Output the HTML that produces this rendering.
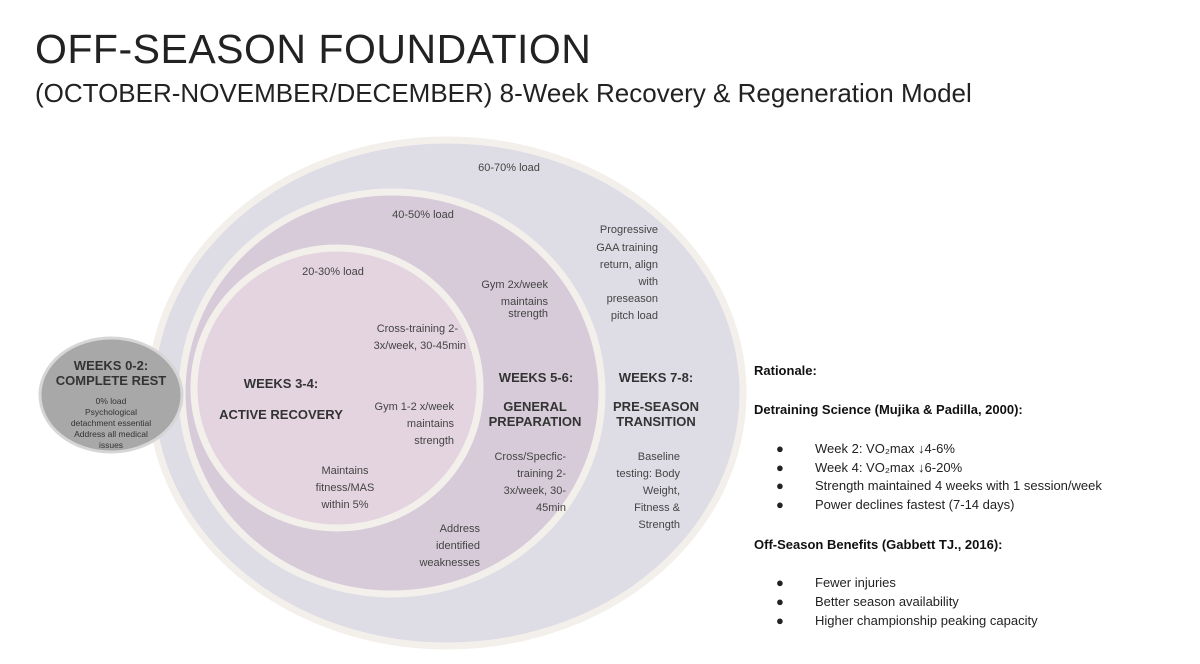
<!DOCTYPE html>
<html><head><meta charset="utf-8"><style>
body{margin:0;width:1200px;height:664px;background:#fff;font-family:"Liberation Sans",sans-serif;overflow:hidden;position:relative}
.t1{position:absolute;left:35px;top:26px;font-size:41px;color:#222;letter-spacing:0.5px}
.t2{position:absolute;left:35px;top:78px;font-size:26px;color:#222}
.r{position:absolute;left:754px;font-size:13px;color:#111}
.b{font-weight:bold}
.li{position:absolute;left:776px;font-size:13px;color:#222}
.li span{position:absolute;left:39px;white-space:nowrap}
</style></head><body>
<div class="t1">OFF-SEASON FOUNDATION</div>
<div class="t2">(OCTOBER-NOVEMBER/DECEMBER) 8-Week Recovery &amp; Regeneration Model</div>
<svg width="760" height="664" style="position:absolute;left:0;top:0" font-family="Liberation Sans, sans-serif">
<ellipse cx="447" cy="393" rx="296" ry="253" fill="#dedce5" stroke="#f3f0ec" stroke-width="7"/>
<ellipse cx="392" cy="393" rx="210" ry="201" fill="#d7cbda" stroke="#f3f0ec" stroke-width="7"/>
<ellipse cx="337" cy="388" rx="143" ry="140" fill="#e3d4df" stroke="#f3f0ec" stroke-width="7"/>
<ellipse cx="111" cy="395" rx="71" ry="57" fill="#a8a8a8" stroke="#d6d6d6" stroke-width="3"/>
<g font-size="11" fill="#444" text-anchor="middle">
<text x="509" y="171">60-70% load</text>
<text x="423" y="218">40-50% load</text>
<text x="333" y="275">20-30% load</text>
<g text-anchor="end">
<text x="658" y="233">Progressive</text><text x="658" y="251">GAA training</text><text x="658" y="268">return, align</text><text x="658" y="285">with</text><text x="658" y="302">preseason</text><text x="658" y="319">pitch load</text>
<text x="548" y="288">Gym 2x/week</text><text x="548" y="305">maintains</text><text x="548" y="312" dy="0"></text><text x="548" y="311" dy="0"></text><text x="548" y="313"></text>
<text x="548" y="322" dy="-5">strength</text>
<text x="458" y="332">Cross-training 2-</text><text x="466" y="349">3x/week, 30-45min</text>
<text x="454" y="410">Gym 1-2 x/week</text><text x="454" y="427">maintains</text><text x="454" y="444">strength</text>
<text x="566" y="460">Cross/Specfic-</text><text x="566" y="477">training 2-</text><text x="566" y="494">3x/week, 30-</text><text x="566" y="511">45min</text>
<text x="680" y="460">Baseline</text><text x="680" y="477">testing: Body</text><text x="680" y="494">Weight,</text><text x="680" y="511">Fitness &amp;</text><text x="680" y="528">Strength</text>
<text x="480" y="532">Address</text><text x="480" y="549">identified</text><text x="480" y="566">weaknesses</text>
</g>
<text x="345" y="474">Maintains</text><text x="345" y="491">fitness/MAS</text><text x="345" y="508">within 5%</text>
</g>
<g font-size="13" font-weight="bold" fill="#333" text-anchor="middle">
<text x="281" y="388">WEEKS 3-4:</text>
<text x="281" y="419">ACTIVE RECOVERY</text>
<text x="536" y="382">WEEKS 5-6:</text>
<text x="535" y="411">GENERAL</text><text x="535" y="426">PREPARATION</text>
<text x="656" y="382">WEEKS 7-8:</text>
<text x="656" y="411">PRE-SEASON</text><text x="656" y="426">TRANSITION</text>
<text x="111" y="370">WEEKS 0-2:</text><text x="111" y="385">COMPLETE REST</text>
</g>
<g font-size="8.5" fill="#333" text-anchor="middle">
<text x="111" y="404">0% load</text><text x="111" y="415">Psychological</text><text x="111" y="426">detachment essential</text><text x="111" y="437">Address all medical</text><text x="111" y="448">issues</text>
</g>
</svg>
<div class="r b" style="top:363px">Rationale:</div>
<div class="r b" style="top:402px">Detraining Science (Mujika &amp; Padilla, 2000):</div>
<div class="li" style="top:441px">●<span>Week 2: VO₂max ↓4-6%</span></div>
<div class="li" style="top:460px">●<span>Week 4: VO₂max ↓6-20%</span></div>
<div class="li" style="top:478px">●<span>Strength maintained 4 weeks with 1 session/week</span></div>
<div class="li" style="top:497px">●<span>Power declines fastest (7-14 days)</span></div>
<div class="r b" style="top:537px">Off-Season Benefits (Gabbett TJ., 2016):</div>
<div class="li" style="top:575px">●<span>Fewer injuries</span></div>
<div class="li" style="top:594px">●<span>Better season availability</span></div>
<div class="li" style="top:613px">●<span>Higher championship peaking capacity</span></div>
</body></html>
